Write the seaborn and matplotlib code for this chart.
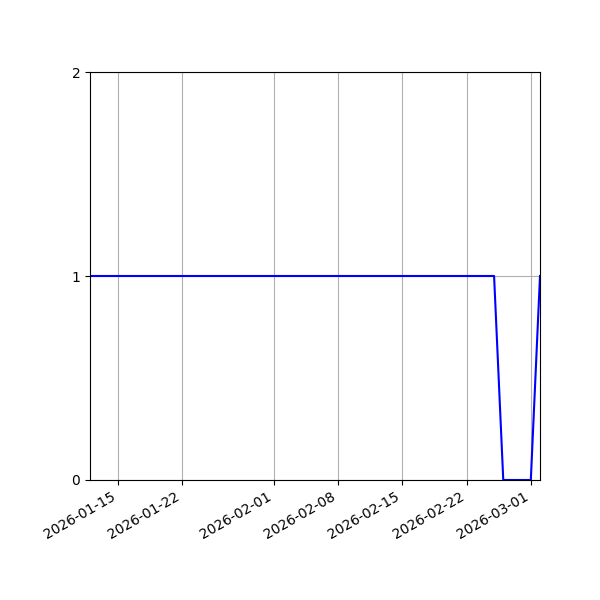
import pandas as pd
import matplotlib
matplotlib.use('Agg')
import matplotlib.pyplot as plt
import seaborn as sns

# daily status values, 2026-01-12 .. 2026-03-02
start_date = '2026-01-12'
end_date = '2026-03-02'
status = [1, 1, 1, 1, 1, 1, 1, 1, 1, 1,
          1, 1, 1, 1, 1, 1, 1, 1, 1, 1,
          1, 1, 1, 1, 1, 1, 1, 1, 1, 1,
          1, 1, 1, 1, 1, 1, 1, 1, 1, 1,
          1, 1, 1, 1, 1, 0, 0, 0, 0, 1]
y_ticks = [0, 1, 2]

df = pd.DataFrame({'date': pd.date_range(start_date, end_date, freq='D'),
                   'status': status})

fig, ax = plt.subplots(figsize=(6, 6), dpi=100)
sns.lineplot(data=df, x='date', y='status', color='blue', ax=ax)
ax.set_xlim(df['date'].iloc[0], df['date'].iloc[-1])
ax.set_ylim(0, 2)
ax.set_yticks(y_ticks)
ax.set_xlabel('')
ax.set_ylabel('')
ax.grid(True)
fig.autofmt_xdate()
fig.subplots_adjust(left=0.15)

plt.savefig('out.png')
